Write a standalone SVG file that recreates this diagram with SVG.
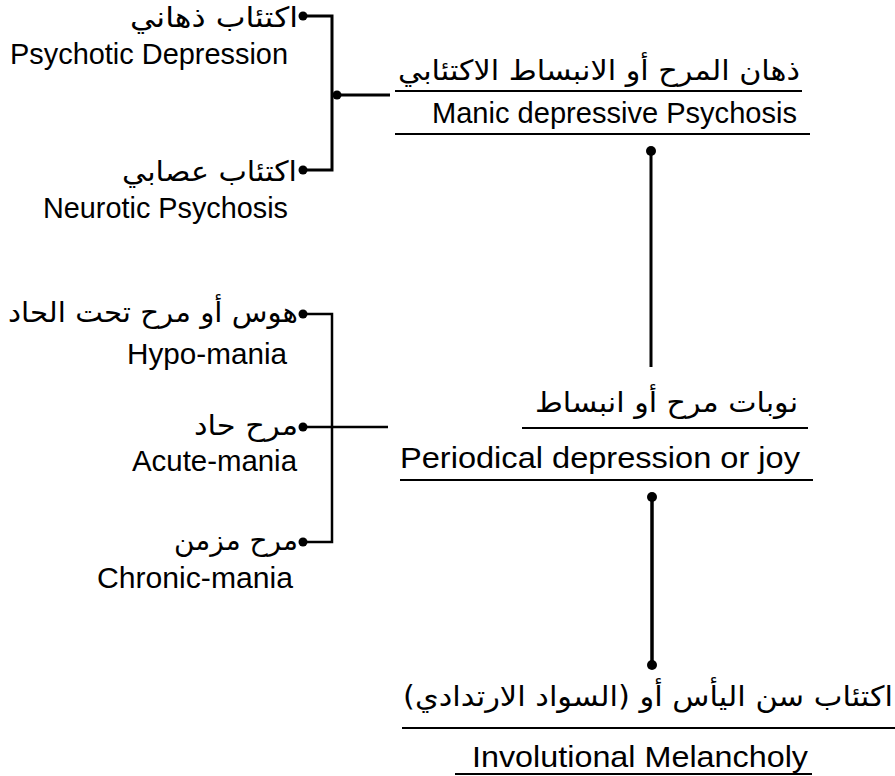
<svg xmlns="http://www.w3.org/2000/svg" width="895" height="776" viewBox="0 0 895 776">
<style>
.en{font-family:"Liberation Sans",Arial,sans-serif;font-size:29px;fill:#000}
.ar{font-family:"DejaVu Sans","Noto Sans",sans-serif;font-size:28px;fill:#000;direction:rtl;text-anchor:start}
.ul{stroke:#000;stroke-width:2.2;fill:none}
.br{stroke:#000;fill:none}
.dot{fill:#000}
</style>
<rect width="895" height="776" fill="#fff"/>
<g id="connectors">
<path class="br" stroke-width="3" d="M303,16 H332 V170 H303"/>
<path class="br" stroke-width="3" d="M332,95 H390"/>
<circle class="dot" cx="303" cy="16" r="4.5"/>
<circle class="dot" cx="303" cy="170" r="4.5"/>
<circle class="dot" cx="337" cy="95" r="4.5"/>
<path class="br" stroke-width="2.5" d="M303,314 H332 V542 H303"/>
<path class="br" stroke-width="2.5" d="M303,427 H388"/>
<circle class="dot" cx="303" cy="314" r="4.5"/>
<circle class="dot" cx="303" cy="427" r="4.5"/>
<circle class="dot" cx="303" cy="542" r="4.5"/>
<path class="br" stroke-width="3" d="M651,151 V367"/>
<circle class="dot" cx="651" cy="151" r="5"/>
<path class="br" stroke-width="3.5" d="M652,497 V665"/>
<circle class="dot" cx="652" cy="497" r="5"/>
<circle class="dot" cx="652" cy="665" r="5"/>
</g>
<g id="psychotic-depression">
<text class="ar" x="298" y="27" textLength="168" lengthAdjust="spacingAndGlyphs">اكتئاب ذهاني</text>
<text class="en" x="10" y="64" textLength="278" lengthAdjust="spacingAndGlyphs">Psychotic Depression</text>
</g>
<g id="neurotic-psychosis">
<text class="ar" x="297" y="181" textLength="175" lengthAdjust="spacingAndGlyphs">اكتئاب عصابي</text>
<text class="en" x="43" y="218" textLength="245" lengthAdjust="spacingAndGlyphs">Neurotic Psychosis</text>
</g>
<g id="manic-depressive-psychosis">
<text class="ar" x="800" y="80" textLength="402" lengthAdjust="spacingAndGlyphs">ذهان المرح أو الانبساط الاكتئابي</text>
<line class="ul" x1="395" y1="91" x2="802" y2="91"/>
<text class="en" x="432" y="123" textLength="365" lengthAdjust="spacingAndGlyphs">Manic depressive Psychosis</text>
<line class="ul" x1="395" y1="134" x2="810" y2="134"/>
</g>
<g id="hypo-mania">
<text class="ar" x="298" y="322" textLength="290" lengthAdjust="spacingAndGlyphs">هوس أو مرح تحت الحاد</text>
<text class="en" x="127" y="364" textLength="160" lengthAdjust="spacingAndGlyphs">Hypo-mania</text>
</g>
<g id="acute-mania">
<text class="ar" x="298" y="435" textLength="104" lengthAdjust="spacingAndGlyphs">مرح حاد</text>
<text class="en" x="132" y="471" textLength="165" lengthAdjust="spacingAndGlyphs">Acute-mania</text>
</g>
<g id="chronic-mania">
<text class="ar" x="298" y="550" textLength="124" lengthAdjust="spacingAndGlyphs">مرح مزمن</text>
<text class="en" x="97" y="588" textLength="196" lengthAdjust="spacingAndGlyphs">Chronic-mania</text>
</g>
<g id="periodical-depression">
<text class="ar" x="798" y="412" textLength="263" lengthAdjust="spacingAndGlyphs">نوبات مرح أو انبساط</text>
<line class="ul" x1="522" y1="428" x2="808" y2="428"/>
<text class="en" x="400" y="468" textLength="400" lengthAdjust="spacingAndGlyphs">Periodical depression or joy</text>
<line class="ul" x1="400" y1="480" x2="813" y2="480"/>
</g>
<g id="involutional-melancholy">
<text class="ar" x="893" y="706" textLength="490" lengthAdjust="spacingAndGlyphs">اكتئاب سن اليأس أو (السواد الارتدادي)</text>
<line class="ul" x1="402" y1="728" x2="895" y2="728"/>
<text class="en" x="472" y="767" textLength="336" lengthAdjust="spacingAndGlyphs">Involutional Melancholy</text>
<line class="ul" x1="455" y1="774" x2="812" y2="774"/>
</g>
</svg>
